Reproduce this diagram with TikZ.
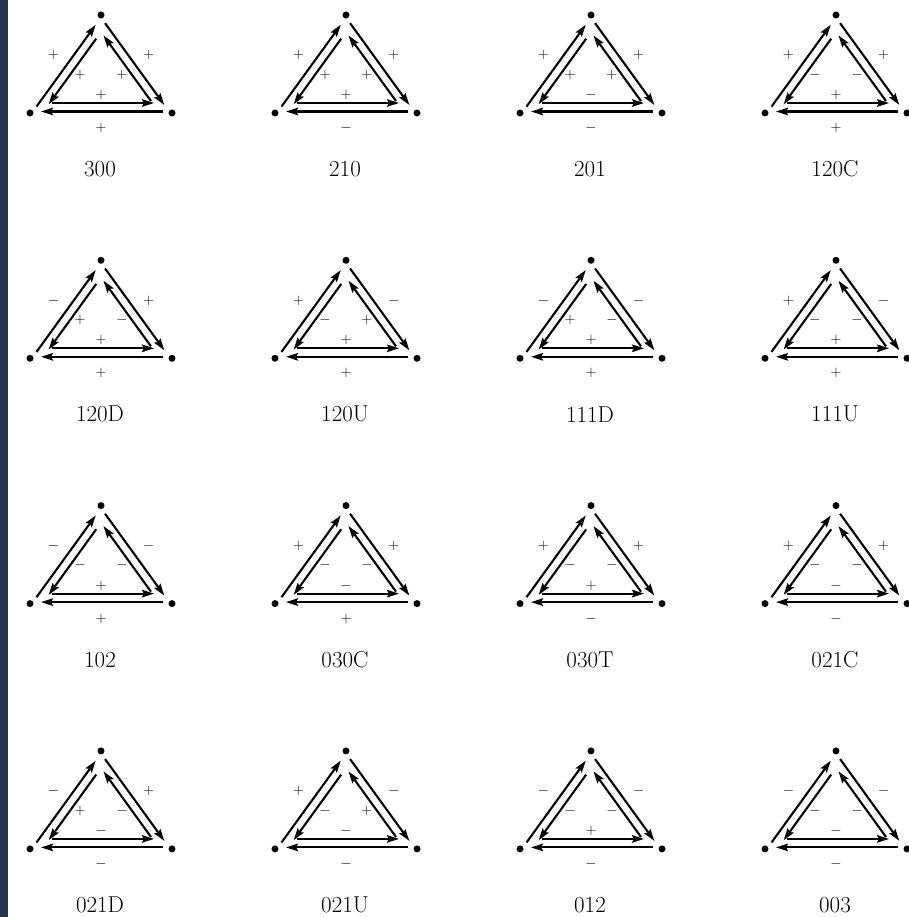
\documentclass[tikz,border=0pt]{standalone}
\usepackage{tikz}
\usetikzlibrary{arrows.meta,calc}
\definecolor{strip}{HTML}{25374F}
\tikzset{
  dot/.style={circle,fill=black,inner sep=0pt,minimum size=7pt},
  sgn/.style={inner sep=0pt,font=\fontsize{15}{18}\selectfont},
  lab/.style={inner sep=0pt,font=\fontsize{23}{27}\selectfont},
  ar/.style={-{Stealth[length=12pt,width=7.5pt,inset=2pt]},line width=2.1pt},
}
% two opposite arcs along one side: outer #1->#2, inner #2->#1
\newcommand{\arcpair}[2]{%
  \draw[ar] ($(#1)!9pt!(#2)!1.5pt!-90:(#2)$) -- ($(#2)!11pt!(#1)!1.5pt!90:(#1)$);
  \draw[ar] ($(#2)!22pt!(#1)!10pt!90:(#1)$) -- ($(#1)!18pt!(#2)!10pt!-90:(#2)$);}
% signs of the two arcs: name, from, to, outer, inner
\newcommand{\arcsigns}[5]{%
  \node[sgn] (o#1) at ($(#2)!0.5!(#3)!15pt!90:(#3)$) {$#4$};
  \node[sgn] (i#1) at ($(#2)!0.5!(#3)!18pt!-90:(#3)$) {$#5$};}

\begin{document}
\begin{tikzpicture}[x=1pt,y=1pt]
\useasboundingbox (0,0) rectangle (908,-917);
\fill[strip] (0,0) rectangle (8,-917);
\foreach \c/\r/\lab/\oL/\oR/\oB/\iL/\iR/\iB in {
  0/0/300/+/+/+/+/+/+, 1/0/210/+/+/-/+/+/+, 2/0/201/+/+/-/+/+/-, 3/0/120C/+/+/+/-/-/+,
  0/1/120D/-/+/+/+/-/+, 1/1/120U/+/-/+/-/+/+, 2/1/111D/-/-/+/+/-/+, 3/1/111U/+/-/+/-/-/+,
  0/2/102/-/-/+/-/-/+, 1/2/030C/+/+/+/-/-/-, 2/2/030T/+/+/-/-/-/+, 3/2/021C/+/+/-/-/-/-,
  0/3/021D/-/+/-/+/-/-, 1/3/021U/+/-/-/-/+/-, 2/3/012/-/-/-/-/-/+, 3/3/003/-/-/-/-/-/-}{
  \begin{scope}[shift={(101+245*\c,-15-245.3*\r)}]
    \node[dot] (A\lab) at (0,0) {};
    \node[dot] (L\lab) at (-71,-98) {};
    \node[dot] (R\lab) at (71,-98) {};
    \node[lab] (n\lab) at (-1,-154) {\lab};
  \end{scope}
  \arcpair{L\lab}{A\lab}
  \arcpair{A\lab}{R\lab}
  \arcpair{R\lab}{L\lab}
  \arcsigns{L\lab}{L\lab}{A\lab}{\oL}{\iL}
  \arcsigns{R\lab}{A\lab}{R\lab}{\oR}{\iR}
  \arcsigns{B\lab}{R\lab}{L\lab}{\oB}{\iB}
}
\end{tikzpicture}
\end{document}
